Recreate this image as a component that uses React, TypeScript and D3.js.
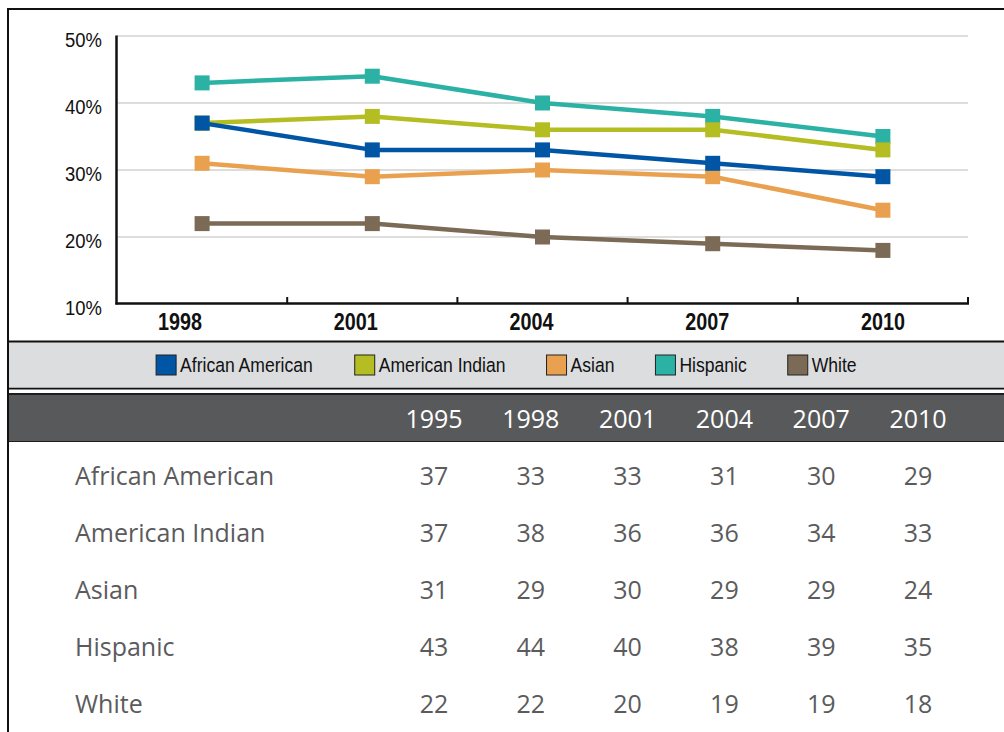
import React, { useMemo } from "react";
import * as d3 from "d3";

// ---- chart data ----
const chartYears = ["1998", "2001", "2004", "2007", "2010"];
const seriesNames = ["African American", "American Indian", "Asian", "Hispanic", "White"];
const seriesColors = ["#0055a5", "#b4bd22", "#e9a14f", "#2cb1a5", "#7b6a55"];
const africanAmerican = [37, 33, 33, 31, 29];
const americanIndian = [37, 38, 36, 36, 33];
const asian = [31, 29, 30, 29, 24];
const hispanic = [43, 44, 40, 38, 35];
const white = [22, 22, 20, 19, 18];
const yTicks = [10, 20, 30, 40, 50];

// ---- table data ----
const tableYears = ["1995", "1998", "2001", "2004", "2007", "2010"];
const tableAfricanAmerican = [37, 33, 33, 31, 30, 29];
const tableAmericanIndian = [37, 38, 36, 36, 34, 33];
const tableAsian = [31, 29, 30, 29, 29, 24];
const tableHispanic = [43, 44, 40, 38, 39, 35];
const tableWhite = [22, 22, 20, 19, 19, 18];

const W = 1004;
const H = 732;
const COND = "'Liberation Sans', Arial, Helvetica, sans-serif";
const TABLE_FONT = "'Open Sans', 'Noto Sans', sans-serif";

function CText(props: any) {
  const { x, y, sx = 0.9, anchor = "start", size, weight = "normal", fill = "#111", children } = props;
  return (
    <text
      transform={`translate(${x},${y}) scale(${sx},1)`}
      textAnchor={anchor}
      fontSize={size}
      fontWeight={weight}
      fill={fill}
      fontFamily={COND}
    >
      {children}
    </text>
  );
}

export default function App() {
  const series = [africanAmerican, americanIndian, asian, hispanic, white];
  const tableRows = [tableAfricanAmerican, tableAmericanIndian, tableAsian, tableHispanic, tableWhite];

  const x = d3.scaleBand<string>().domain(chartYears).range([117, 968]).padding(0);
  const xLabel = d3.scalePoint<string>().domain(chartYears).range([180, 883]);
  const y = d3.scaleLinear().domain([10, 50]).range([304, 36]);
  const cx = (yr: string) => (x(yr) as number) + x.bandwidth() / 2;

  const line = d3
    .line<number>()
    .x((_, i) => cx(chartYears[i]))
    .y((d) => y(d));

  const legendLayout = useMemo(() => {
    const canvas = document.createElement("canvas");
    const ctx = canvas.getContext("2d") as CanvasRenderingContext2D;
    ctx.font = `19.5px ${COND}`;
    let cur = 155.6;
    return seriesNames.map((name) => {
      const w = ctx.measureText(name).width * 0.9;
      const item = { sw: cur, tx: cur + 24.5 };
      cur = cur + 24.5 + w + 40.5;
      return item;
    });
  }, []);

  const colX = d3.scalePoint<string>().domain(tableYears).range([434, 918]);
  const rowY = d3.scaleLinear().domain([0, 4]).range([484.5, 713]);

  const drawOrder = [4, 3, 2, 1, 0];
  const ms = 15;

  return (
    <div style={{ position: "fixed", left: 0, top: 0, width: W, height: H, background: "#fff" }}>
      <svg width={W} height={H} style={{ display: "block" }}>
        <rect x={0} y={0} width={W} height={H} fill="#fff" />

        {/* gridlines */}
        {yTicks
          .filter((t) => t !== 10)
          .map((t) => (
            <line key={t} x1={117} x2={968} y1={y(t)} y2={y(t)} stroke="#d2d2d2" strokeWidth={1.5} />
          ))}

        {/* axes */}
        <line x1={116.5} x2={116.5} y1={35.5} y2={304.5} stroke="#111" strokeWidth={2.5} />
        <line x1={115.5} x2={969} y1={303.5} y2={303.5} stroke="#111" strokeWidth={2.5} />
        {chartYears.slice(1).map((yr) => (
          <line key={yr} x1={x(yr)} x2={x(yr)} y1={304} y2={297} stroke="#111" strokeWidth={2} />
        ))}
        <line x1={968} x2={968} y1={304} y2={297} stroke="#111" strokeWidth={2} />

        {/* y labels */}
        {yTicks.map((t) => (
          <CText key={t} x={102} y={y(t) + 10.7} anchor="end" size={20.5} sx={0.9}>
            {`${t}%`}
          </CText>
        ))}

        {/* x labels */}
        {chartYears.map((yr) => (
          <CText key={yr} x={xLabel(yr)} y={330} anchor="middle" size={23} weight="bold" sx={0.86}>
            {yr}
          </CText>
        ))}

        {/* series */}
        {drawOrder.map((si) => (
          <g key={si}>
            <path d={line(series[si]) as string} fill="none" stroke={seriesColors[si]} strokeWidth={4.5} strokeLinejoin="round" />
            {series[si].map((v, i) => (
              <rect
                key={i}
                x={cx(chartYears[i]) - ms / 2}
                y={y(v) - ms / 2}
                width={ms}
                height={ms}
                fill={seriesColors[si]}
              />
            ))}
          </g>
        ))}

        {/* legend band */}
        <rect x={8} y={342} width={W - 8} height={46.5} fill="#dcdddf" />
        <line x1={8} x2={W} y1={341.5} y2={341.5} stroke="#111" strokeWidth={2} />
        <line x1={8} x2={W} y1={388.6} y2={388.6} stroke="#111" strokeWidth={1.6} />
        {seriesNames.map((name, i) => (
          <g key={name}>
            <rect
              x={legendLayout[i].sw + 0.5}
              y={355}
              width={20}
              height={20}
              fill={seriesColors[i]}
              stroke="#222"
              strokeWidth={1}
            />
            <CText x={legendLayout[i].tx} y={371.7} size={19.5} sx={0.9}>
              {name}
            </CText>
          </g>
        ))}

        {/* table header band */}
        <rect x={8} y={393} width={W - 8} height={49} fill="#1e1e1e" />
        <rect x={8} y={395} width={W - 8} height={46} fill="#58595b" />
        {tableYears.map((yr) => (
          <text
            key={yr}
            x={colX(yr)}
            y={428}
            textAnchor="middle"
            fontSize={25}
            fill="#fff"
            fontFamily={TABLE_FONT}
          >
            {yr}
          </text>
        ))}

        {/* table rows */}
        {seriesNames.map((name, ri) => (
          <g key={name}>
            <text x={75} y={rowY(ri)} fontSize={25} fill="#5b5b5d" fontFamily={TABLE_FONT}>
              {name}
            </text>
            {tableRows[ri].map((v, ci) => (
              <text
                key={ci}
                x={colX(tableYears[ci])}
                y={rowY(ri)}
                textAnchor="middle"
                fontSize={25}
                fill="#5b5b5d"
                fontFamily={TABLE_FONT}
              >
                {v}
              </text>
            ))}
          </g>
        ))}

        {/* outer frame */}
        <path d={`M8,${H} V9 H${W}`} fill="none" stroke="#111" strokeWidth={2} />
      </svg>
    </div>
  );
}
